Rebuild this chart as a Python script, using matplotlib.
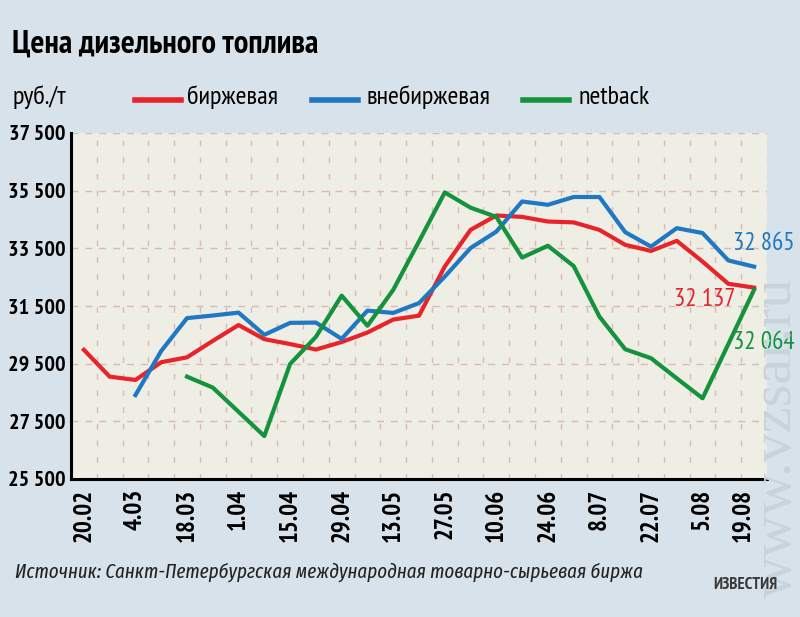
import matplotlib
matplotlib.use("Agg")
import logging
import matplotlib.pyplot as plt
import numpy as np

logging.getLogger("matplotlib.font_manager").setLevel(logging.ERROR)

# ---------- data (руб./т, weekly) ----------
birzh = [29980, 29050, 28935, 29550, 29720, 30290, 30840, 30350, 30180,
         29990, 30250, 30580, 31030, 31165, 32870, 34140, 34640, 34590,
         34430, 34400, 34140, 33620, 33410, 33760, 33040, 32270, 32137]
vnebirzh = [None, None, 28410, 29940, 31080, 31170, 31270, 30500, 30915,
            30925, 30360, 31340, 31260, 31600, 32520, 33510, 34080, 35125,
            35010, 35280, 35280, 34060, 33560, 34200, 34030, 33080, 32865]
netback = [None, None, None, None, 29050, 28670, 27830, 26990, 29490,
           30430, 31860, 30815, 32060, 33740, 35440, 34910, 34590, 33180,
           33590, 32885, 31130, 30000, 29690, 28990, 28300, 30180, 32064]

date_labels = ["20.02", "4.03", "18.03", "1.04", "15.04", "29.04", "13.05",
               "27.05", "10.06", "24.06", "8.07", "22.07", "5.08", "19.08"]
date_pos = [0, 2, 4, 6, 8, 10, 12, 14, 16, 18, 20, 22, 24, 25.55]
y_ticks = [25500, 27500, 29500, 31500, 33500, 35500, 37500]

RED = "#e8232a"
BLUE = "#1f78c1"
GREEN = "#14923c"
FIG_BG = "#d7e2ea"
PLOT_BG = "#eeeee4"
GRID = "#d8b9bb"

# узкие шрифты с кириллицей, запасной — DejaVu
NARROW = ["PT Sans Narrow", "Fira Sans Extra Condensed", "Roboto Condensed",
          "Fira Sans Condensed", "DejaVu Sans"]
NARROW_IT = ["Fira Sans Extra Condensed", "Fira Sans Condensed",
             "Roboto Condensed", "PT Sans Narrow", "DejaVu Sans"]


def arr(v):
    return np.array([np.nan if x is None else x for x in v], dtype=float)


def fmt(v):
    return f"{v:,}".replace(",", " ")


fig = plt.figure(figsize=(8, 6.17), dpi=100, facecolor=FIG_BG)

# watermark (behind everything)
fig.text(777 / 800, 1 - 438 / 617, "www.vzsar.ru",
         family=["Liberation Serif", "DejaVu Serif"], fontsize=42,
         rotation=90, color="#c9d3da", va="center", ha="center", zorder=0)

ax = fig.add_axes([71 / 800, 1 - 479 / 617, 696 / 800, 346 / 617])
ax.set_facecolor(PLOT_BG)

x = np.arange(len(birzh))
ax.plot(x, arr(birzh), color=RED, lw=3, zorder=3)
ax.plot(x, arr(vnebirzh), color=BLUE, lw=3, zorder=3)
ax.plot(x, arr(netback), color=GREEN, lw=3, zorder=3)

ax.set_xlim(-0.5, 26.5)
ax.set_ylim(25500, 37500)

# grid
ax.set_xticks(np.arange(0.5, 26.6, 1), minor=True)
ax.grid(which="minor", axis="x", color=GRID, lw=1, linestyle=(0, (4, 8)))
ax.set_yticks(y_ticks)
ax.set_yticklabels([fmt(v) for v in y_ticks], family=NARROW, fontsize=16,
                   fontweight="bold")
ax.grid(which="major", axis="y", color=GRID, lw=1, linestyle=(0, (5, 5)))
ax.set_xticks(date_pos)
ax.set_xticklabels(date_labels, rotation=90, family=NARROW, fontsize=18,
                   fontweight="bold", va="top", ha="center")
ax.tick_params(which="both", length=0)
ax.tick_params(axis="y", pad=4)
ax.tick_params(axis="x", pad=7)

for s in ["top", "right"]:
    ax.spines[s].set_visible(False)
for s in ["left", "bottom"]:
    ax.spines[s].set_linewidth(2.2)
    ax.spines[s].set_color("black")
    ax.spines[s].set_zorder(4)

# подписи последних значений
ax.text(26.37, 33660, fmt(vnebirzh[-1]), color=BLUE, family=NARROW,
        fontsize=18, ha="center", va="center", clip_on=False)
ax.text(24.08, 31710, fmt(birzh[-1]), color=RED, family=NARROW,
        fontsize=18, ha="center", va="center")
ax.text(26.37, 30220, fmt(netback[-1]), color=GREEN, family=NARROW,
        fontsize=18, ha="center", va="center", clip_on=False)

# title + legend
fig.text(12 / 800, 1 - 53 / 617, "Цена дизельного топлива", family=NARROW,
         fontsize=23.5, fontweight="bold", va="baseline", ha="left")
fig.text(12 / 800, 1 - 104 / 617, "руб./т", family=NARROW, fontsize=19,
         va="baseline", ha="left")
legend_items = [(135, 187, "биржевая", RED), (312, 366, "внебиржевая", BLUE),
                (523, 578, "netback", GREEN)]
for x0, xt, lab, col in legend_items:
    fig.add_artist(plt.Line2D([x0 / 800, (x0 + 46) / 800],
                              [1 - 100 / 617, 1 - 100 / 617],
                              color=col, lw=4, transform=fig.transFigure))
    fig.text(xt / 800, 1 - 104 / 617, lab, family=NARROW, fontsize=19,
             va="baseline", ha="left")

# source + logo
fig.text(15 / 800, 1 - 572 / 617,
         "Источник: Санкт-Петербургская международная товарно-сырьевая биржа",
         family=NARROW_IT, fontsize=14.8, style="italic", color="#222222",
         va="center", ha="left")
fig.text(745 / 800, 1 - 585 / 617, "ИЗВЕСТИЯ", family=NARROW, fontsize=12,
         fontweight="bold", color="#3a3a3a", va="center", ha="center")

fig.savefig("out.png", dpi=100, facecolor=FIG_BG)
